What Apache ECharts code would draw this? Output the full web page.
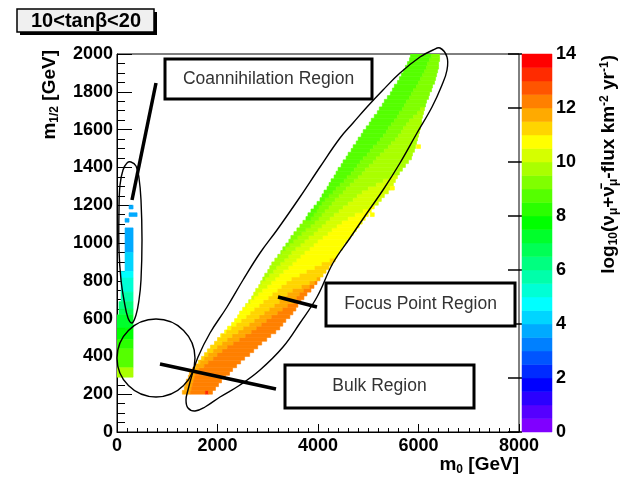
<!DOCTYPE html>
<html>
<head>
<meta charset="utf-8">
<script src="https://cdn.jsdelivr.net/npm/echarts@6/dist/echarts.min.js"></script>
<style>
html, body { margin: 0; padding: 0; background: #fff; }
#chart { width: 623px; height: 478px; }
</style>
</head>
<body>
<div id="chart"></div>
<script>
// colour scale: log10 flux levels and the palette between them
var fluxLevels = [0, 0.5, 1, 1.5, 2, 2.5, 3, 3.5, 4, 4.5, 5, 5.5, 6, 6.5, 7, 7.5,
    8, 8.5, 9, 9.5, 10, 10.5, 11, 11.5, 12, 12.5, 13, 13.5, 14];
var fluxColors = ['#8000ff', '#5500ff', '#2b00ff', '#0000ff', '#002bff', '#0055ff', '#0080ff',
    '#00aaff', '#00d5ff', '#00ffff', '#00ffd5', '#00ffaa', '#00ff80', '#00ff55', '#00ff2b',
    '#00ff00', '#2bff00', '#55ff00', '#80ff00', '#aaff00', '#d5ff00', '#ffff00', '#ffd500',
    '#ffaa00', '#ff8000', '#ff5500', '#ff2b00', '#ff0000'];

// coannihilation strip: [m0 from, m0 to, m12 from, m12 to, log10 flux]
var coannCells = [
    [240, 320, 1180, 1200, 3.75],
    [240, 400, 1140, 1160, 3.75],
    [160, 240, 1110, 1130, 3.75],
    [160, 320, 950, 1080, 3.75],
    [160, 320, 850, 950, 4.25],
    [80, 320, 815, 850, 4.75],
    [80, 320, 740, 815, 5.25],
    [80, 320, 690, 740, 5.75],
    [40, 320, 650, 690, 6.25],
    [40, 320, 620, 650, 6.75],
    [0, 320, 550, 620, 7.25],
    [0, 320, 490, 550, 7.75],
    [0, 320, 440, 490, 8.25],
    [0, 320, 340, 440, 8.75],
    [0, 320, 290, 340, 9.75]
];

// bulk / focus point band, one row every 20 GeV in m1/2: [m0 from, m0 to, log10 flux]
var bandRowY = [200, 220, 240, 260, 280, 300, 320, 340, 360, 380, 400, 420, 440, 460, 480,
    500, 520, 540, 560, 580, 600, 620, 640, 660, 680, 700, 720, 740, 760, 780,
    800, 820, 840, 860, 880, 900, 920, 940, 960, 980, 1000, 1020, 1040, 1060, 1080,
    1100, 1120, 1140, 1160, 1180, 1200, 1220, 1240, 1260, 1280, 1300, 1320, 1340, 1360, 1380,
    1400, 1420, 1440, 1460, 1480, 1500, 1520, 1540, 1560, 1580, 1600, 1620, 1640, 1660, 1680,
    1700, 1720, 1740, 1760, 1780, 1800, 1820, 1840, 1860, 1880, 1900, 1920, 1940, 1960, 1980];
var bandRows = [
    [[1300, 1460, 11.75], [1460, 1760, 12.25], [1760, 1820, 13.25], [1820, 1900, 12.25]],
    [[1340, 1480, 11.75], [1480, 1960, 12.25]],
    [[1360, 1500, 11.75], [1500, 2020, 12.25]],
    [[1380, 1520, 11.75], [1520, 2080, 12.25]],
    [[1420, 1540, 11.75], [1540, 2160, 12.25]],
    [[1440, 1560, 11.75], [1560, 2240, 12.25]],
    [[1500, 1640, 11.75], [1640, 2300, 12.25]],
    [[1560, 1580, 11.25], [1580, 1740, 11.75], [1740, 2380, 12.25]],
    [[1620, 1660, 11.25], [1660, 1820, 11.75], [1820, 2460, 12.25]],
    [[1680, 1740, 11.25], [1740, 1920, 11.75], [1920, 2540, 12.25]],
    [[1740, 1820, 11.25], [1820, 2000, 11.75], [2000, 2640, 12.25]],
    [[1800, 1920, 11.25], [1920, 2100, 11.75], [2100, 2720, 12.25]],
    [[1860, 2000, 11.25], [2000, 2200, 11.75], [2200, 2800, 12.25]],
    [[1940, 2100, 11.25], [2100, 2320, 11.75], [2320, 2880, 12.25]],
    [[2000, 2200, 11.25], [2200, 2440, 11.75], [2440, 2980, 12.25]],
    [[2060, 2080, 10.75], [2080, 2300, 11.25], [2300, 2560, 11.75], [2560, 3060, 12.25]],
    [[2140, 2180, 10.75], [2180, 2420, 11.25], [2420, 2680, 11.75], [2680, 3160, 12.25]],
    [[2200, 2280, 10.75], [2280, 2520, 11.25], [2520, 2780, 11.75], [2780, 3240, 12.25]],
    [[2280, 2380, 10.75], [2380, 2640, 11.25], [2640, 2880, 11.75], [2880, 3300, 12.25]],
    [[2340, 2480, 10.75], [2480, 2740, 11.25], [2740, 2980, 11.75], [2980, 3360, 12.25]],
    [[2400, 2580, 10.75], [2580, 2840, 11.25], [2840, 3080, 11.75], [3080, 3440, 12.25]],
    [[2440, 2660, 10.75], [2660, 2940, 11.25], [2940, 3200, 11.75], [3200, 3500, 12.25]],
    [[2500, 2740, 10.75], [2740, 3040, 11.25], [3040, 3300, 11.75], [3300, 3560, 12.25]],
    [[2560, 2580, 10.25], [2580, 2840, 10.75], [2840, 3140, 11.25], [3140, 3400, 11.75], [3400, 3600, 12.25]],
    [[2620, 2660, 10.25], [2660, 2920, 10.75], [2920, 3240, 11.25], [3240, 3520, 11.75], [3520, 3660, 12.25]],
    [[2680, 2740, 10.25], [2740, 3020, 10.75], [3020, 3320, 11.25], [3320, 3580, 11.75], [3580, 3720, 12.25]],
    [[2720, 2820, 10.25], [2820, 3100, 10.75], [3100, 3400, 11.25], [3400, 3640, 11.75], [3640, 3780, 12.25]],
    [[2760, 2900, 10.25], [2900, 3200, 10.75], [3200, 3500, 11.25], [3500, 3720, 11.75], [3720, 3860, 12.25]],
    [[2820, 3000, 10.25], [3000, 3280, 10.75], [3280, 3680, 11.25], [3680, 3840, 11.75], [3840, 3920, 12.25]],
    [[2860, 2880, 9.75], [2880, 3080, 10.25], [3080, 3380, 10.75], [3380, 3840, 11.25], [3840, 3940, 11.75], [3940, 3980, 12.25]],
    [[2900, 2960, 9.75], [2960, 3160, 10.25], [3160, 3480, 10.75], [3480, 3980, 11.25], [3980, 4040, 11.75]],
    [[2940, 3040, 9.75], [3040, 3240, 10.25], [3240, 3640, 10.75], [3640, 4100, 11.25]],
    [[3000, 3120, 9.75], [3120, 3320, 10.25], [3320, 3780, 10.75], [3780, 4160, 11.25]],
    [[3040, 3180, 9.75], [3180, 3420, 10.25], [3420, 3940, 10.75], [3940, 4220, 11.25]],
    [[3080, 3260, 9.75], [3260, 3500, 10.25], [3500, 4080, 10.75], [4080, 4280, 11.25]],
    [[3140, 3340, 9.75], [3340, 3580, 10.25], [3580, 4240, 10.75], [4240, 4340, 11.25]],
    [[3200, 3220, 9.25], [3220, 3420, 9.75], [3420, 3660, 10.25], [3660, 4380, 10.75]],
    [[3260, 3280, 9.25], [3280, 3480, 9.75], [3480, 3740, 10.25], [3740, 4420, 10.75]],
    [[3300, 3360, 9.25], [3360, 3560, 9.75], [3560, 3840, 10.25], [3840, 4480, 10.75]],
    [[3360, 3440, 9.25], [3440, 3660, 9.75], [3660, 3920, 10.25], [3920, 4520, 10.75]],
    [[3420, 3520, 9.25], [3520, 3740, 9.75], [3740, 4000, 10.25], [4000, 4580, 10.75]],
    [[3460, 3600, 9.25], [3600, 3820, 9.75], [3820, 4100, 10.25], [4100, 4640, 10.75]],
    [[3520, 3680, 9.25], [3680, 3920, 9.75], [3920, 4200, 10.25], [4200, 4700, 10.75]],
    [[3580, 3760, 9.25], [3760, 4000, 9.75], [4000, 4280, 10.25], [4280, 4760, 10.75]],
    [[3640, 3860, 9.25], [3860, 4080, 9.75], [4080, 4380, 10.25], [4380, 4820, 10.75]],
    [[3700, 3940, 9.25], [3940, 4160, 9.75], [4160, 4480, 10.25], [4480, 4880, 10.75]],
    [[3760, 3860, 8.75], [3860, 4020, 9.25], [4020, 4240, 9.75], [4240, 4600, 10.25], [4600, 4940, 10.75]],
    [[3800, 3920, 8.75], [3920, 4080, 9.25], [4080, 4320, 9.75], [4320, 4740, 10.25], [4740, 5000, 10.75]],
    [[3860, 3980, 8.75], [3980, 4140, 9.25], [4140, 4420, 9.75], [4420, 4900, 10.25], [4900, 5060, 10.75]],
    [[3920, 4020, 8.75], [4020, 4220, 9.25], [4220, 4500, 9.75], [4500, 5040, 10.25], [5040, 5120, 10.75]],
    [[3980, 4080, 8.75], [4080, 4280, 9.25], [4280, 4600, 9.75], [4600, 5200, 10.25]],
    [[4040, 4140, 8.75], [4140, 4340, 9.25], [4340, 4700, 9.75], [4700, 5260, 10.25]],
    [[4080, 4220, 8.75], [4220, 4420, 9.25], [4420, 4780, 9.75], [4780, 5320, 10.25]],
    [[4120, 4300, 8.75], [4300, 4500, 9.25], [4500, 4880, 9.75], [4880, 5400, 10.25]],
    [[4180, 4360, 8.75], [4360, 4560, 9.25], [4560, 5000, 9.75], [5000, 5440, 10.25]],
    [[4220, 4440, 8.75], [4440, 4640, 9.25], [4640, 5160, 9.75], [5160, 5500, 10.25]],
    [[4260, 4520, 8.75], [4520, 4720, 9.25], [4720, 5300, 9.75], [5300, 5540, 10.25]],
    [[4320, 4580, 8.75], [4580, 4800, 9.25], [4800, 5460, 9.75], [5460, 5580, 10.25]],
    [[4360, 4660, 8.75], [4660, 4880, 9.25], [4880, 5620, 9.75]],
    [[4400, 4720, 8.75], [4720, 4940, 9.25], [4940, 5680, 9.75]],
    [[4460, 4780, 8.75], [4780, 5020, 9.25], [5020, 5740, 9.75]],
    [[4500, 4840, 8.75], [4840, 5100, 9.25], [5100, 5800, 9.75]],
    [[4560, 4900, 8.75], [4900, 5160, 9.25], [5160, 5860, 9.75]],
    [[4600, 4980, 8.75], [4980, 5240, 9.25], [5240, 5880, 9.75]],
    [[4660, 5040, 8.75], [5040, 5320, 9.25], [5320, 5920, 9.75]],
    [[4700, 5100, 8.75], [5100, 5400, 9.25], [5400, 5940, 9.75]],
    [[4760, 5180, 8.75], [5180, 5460, 9.25], [5460, 5960, 9.75]],
    [[4800, 5240, 8.75], [5240, 5540, 9.25], [5540, 5980, 9.75]],
    [[4860, 5300, 8.75], [5300, 5600, 9.25], [5600, 6000, 9.75]],
    [[4900, 5360, 8.75], [5360, 5660, 9.25], [5660, 6020, 9.75]],
    [[4960, 5400, 8.75], [5400, 5700, 9.25], [5700, 6040, 9.75]],
    [[5020, 5460, 8.75], [5460, 5760, 9.25], [5760, 6060, 9.75]],
    [[5060, 5520, 8.75], [5520, 5820, 9.25], [5820, 6060, 9.75]],
    [[5120, 5580, 8.75], [5580, 5900, 9.25], [5900, 6080, 9.75]],
    [[5180, 5620, 8.75], [5620, 5980, 9.25], [5980, 6100, 9.75]],
    [[5220, 5680, 8.75], [5680, 6040, 9.25], [6040, 6120, 9.75]],
    [[5280, 5720, 8.75], [5720, 6140, 9.25]],
    [[5320, 5760, 8.75], [5760, 6160, 9.25]],
    [[5380, 5820, 8.75], [5820, 6200, 9.25]],
    [[5440, 5860, 8.75], [5860, 6220, 9.25]],
    [[5480, 5900, 8.75], [5900, 6260, 9.25]],
    [[5520, 5960, 8.75], [5960, 6280, 9.25]],
    [[5580, 6000, 8.75], [6000, 6320, 9.25]],
    [[5620, 6040, 8.75], [6040, 6340, 9.25]],
    [[5660, 6080, 8.75], [6080, 6360, 9.25]],
    [[5700, 6120, 8.75], [6120, 6380, 9.25]],
    [[5740, 6160, 8.75], [6160, 6400, 9.25]],
    [[5780, 6180, 8.75], [6180, 6400, 9.25]],
    [[5820, 6220, 8.75], [6220, 6420, 9.25]],
    [[5840, 6260, 8.75], [6260, 6420, 9.25]]
];
var bandRowHeight = 20;

// single points sticking out of the band
var strayCells = [
    [5040, 5120, 1140, 1160, 10.75],
    [5440, 5520, 1280, 1300, 10.75],
    [5960, 6040, 1500, 1520, 10.75]
];

var cells = coannCells.slice();
bandRows.forEach(function (segs, i) {
    segs.forEach(function (s) {
        cells.push([s[0], s[1], bandRowY[i], bandRowY[i] + bandRowHeight, s[2]]);
    });
});
strayCells.forEach(function (c) {
    cells.push(c);
});

var pieces = [];
var barData = [];
for (var i = 0; i < fluxColors.length; i++) {
    pieces.push({ gte: fluxLevels[i], lt: fluxLevels[i + 1], color: fluxColors[i] });
    barData.push([fluxLevels[i], fluxLevels[i + 1]]);
}

var labelFont = {
    color: '#000',
    fontSize: 18,
    fontWeight: 'bold',
    fontFamily: 'Liberation Sans',
    formatter: function (v) {
        return String(v);
    }
};

function boxText(x, y, w, h, text) {
    return [
        {
            type: 'rect', z: 20,
            shape: { x: x, y: y, width: w, height: h },
            style: { fill: '#fff', stroke: '#000', lineWidth: 3 }
        },
        {
            type: 'text', z: 21,
            x: x + w / 2, y: y + h / 2,
            style: {
                text: text, fill: '#333', font: '17.5px "Liberation Sans"',
                align: 'center', verticalAlign: 'middle',
                textAlign: 'center', textVerticalAlign: 'middle'
            }
        }
    ];
}

function pointer(x1, y1, x2, y2) {
    return {
        type: 'line', z: 22,
        shape: { x1: x1, y1: y1, x2: x2, y2: y2 },
        style: { stroke: '#000', lineWidth: 3.5 }
    };
}

var titleRich = {
    b: { fontSize: 19, fontWeight: 'bold', fontFamily: 'Liberation Sans', fill: '#000', lineHeight: 24 },
    sub: { fontSize: 12, fontWeight: 'bold', fontFamily: 'Liberation Sans', fill: '#000', padding: [9, 0, 0, 0] },
    sup: { fontSize: 12, fontWeight: 'bold', fontFamily: 'Liberation Sans', fill: '#000', padding: [0, 0, 9, 0] }
};

var graphics = [
    // title pave
    { type: 'rect', z: 20, shape: { x: 20, y: 12, width: 137, height: 23 }, style: { fill: '#000' } },
    { type: 'rect', z: 21, shape: { x: 17, y: 9, width: 137, height: 23 }, style: { fill: '#f0f0f0', stroke: '#000', lineWidth: 1.5 } },
    {
        type: 'text', z: 22, x: 86, y: 21,
        style: {
            text: '10<tanβ<20', fill: '#000', font: 'bold 20px "Liberation Sans"',
            align: 'center', verticalAlign: 'middle', textAlign: 'center', textVerticalAlign: 'middle'
        }
    },
    // region outlines
    {
        type: 'polygon', z: 15,
        shape: {
            smooth: 0.4,
            points: [[440, 48], [447, 57], [447, 70], [442, 85], [432, 107], [417, 133], [400, 163],
                [383, 190], [367, 213], [350, 238], [333, 263], [317, 297], [300, 323], [283, 347],
                [260, 370], [240, 385], [220, 397], [205, 407], [195, 411], [188, 408], [186, 400],
                [188, 390], [192, 375], [198, 357], [210, 333], [227, 307], [243, 280], [260, 253],
                [277, 230], [300, 197], [320, 167], [340, 138], [353, 123], [367, 107], [383, 90],
                [400, 73], [420, 57], [433, 50]]
        },
        style: { fill: 'none', stroke: '#000', lineWidth: 1.4 }
    },
    {
        type: 'polygon', z: 15,
        shape: {
            smooth: 0.4,
            points: [[131, 162], [136, 166], [139, 178], [141, 200], [142, 240], [141, 280], [139, 300],
                [136, 315], [132, 323], [128, 318], [124, 300], [121, 280], [119, 250], [119, 210],
                [120, 185], [123, 170], [127, 163]]
        },
        style: { fill: 'none', stroke: '#000', lineWidth: 1.4 }
    },
    {
        type: 'circle', z: 15,
        shape: { cx: 156, cy: 358, r: 39 },
        style: { fill: 'none', stroke: '#000', lineWidth: 1.4 }
    },
    pointer(156, 83, 132, 200),
    pointer(278, 297, 317, 307),
    pointer(160, 364, 276, 389),
    // axis titles
    {
        type: 'text', z: 22, x: 519, y: 465,
        style: {
            text: '{b|m}{sub|0}{b| [GeV]}', rich: titleRich,
            align: 'right', verticalAlign: 'middle', textAlign: 'right', textVerticalAlign: 'middle'
        }
    },
    {
        type: 'text', z: 22, x: 50, y: 50, rotation: Math.PI / 2,
        style: {
            text: '{b|m}{sub|1/2}{b| [GeV]}', rich: titleRich,
            align: 'right', verticalAlign: 'middle', textAlign: 'right', textVerticalAlign: 'middle'
        }
    },
    {
        type: 'text', z: 22, x: 609, y: 55, rotation: Math.PI / 2,
        style: {
            text: '{b|log}{sub|10}{b|(ν}{sub|μ}{b|+ν\u0304}{sub|μ}{b|-flux km}{sup|-2}{b| yr}{sup|-1}{b|)}',
            rich: titleRich,
            align: 'right', verticalAlign: 'middle', textAlign: 'right', textVerticalAlign: 'middle'
        }
    }
];
graphics = graphics.concat(boxText(165, 59, 207, 40, 'Coannihilation Region'));
graphics = graphics.concat(boxText(326, 283, 189, 43, 'Focus Point Region'));
graphics = graphics.concat(boxText(285, 365, 189, 43, 'Bulk Region'));

var chart = echarts.init(document.getElementById('chart'), null, { renderer: 'canvas' });

var option = {
    animation: false,
    backgroundColor: '#fff',
    grid: [
        { left: 117, right: 104, top: 54, bottom: 46, show: true, borderColor: '#000', borderWidth: 1, outerBoundsMode: 'none' },
        { left: 522, right: 71, top: 54, bottom: 46, outerBoundsMode: 'none' }
    ],
    xAxis: [
        {
            type: 'value', gridIndex: 0, min: 0, max: 8000, interval: 2000,
            axisLine: { lineStyle: { color: '#000', width: 1 } },
            axisTick: { inside: true, length: 8, lineStyle: { color: '#000' } },
            minorTick: { show: true, splitNumber: 10, length: 4, lineStyle: { color: '#000' } },
            splitLine: { show: false },
            axisLabel: Object.assign({ margin: 5 }, labelFont)
        },
        {
            type: 'value', gridIndex: 1, min: 0, max: 1, show: false
        }
    ],
    yAxis: [
        {
            type: 'value', gridIndex: 0, min: 0, max: 2000, interval: 200,
            axisLine: { lineStyle: { color: '#000', width: 1 } },
            axisTick: { inside: true, length: 15, lineStyle: { color: '#000' } },
            minorTick: { show: true, splitNumber: 4, length: 8, lineStyle: { color: '#000' } },
            splitLine: { show: false },
            axisLabel: Object.assign({ margin: 4 }, labelFont)
        },
        {
            type: 'value', gridIndex: 1, min: 0, max: 14, interval: 2, position: 'right',
            axisLine: { show: false },
            axisTick: { inside: true, length: 14, lineStyle: { color: '#000', width: 1.5 } },
            splitLine: { show: false },
            axisLabel: Object.assign({ margin: 4 }, labelFont)
        }
    ],
    visualMap: {
        type: 'piecewise', show: false, dimension: 4, seriesIndex: 0,
        pieces: pieces
    },
    graphic: graphics,
    series: [
        {
            type: 'custom',
            xAxisIndex: 0, yAxisIndex: 0,
            clip: true, silent: true,
            encode: { x: [0, 1], y: [2, 3] },
            data: cells,
            renderItem: function (params, api) {
                var p0 = api.coord([api.value(0), api.value(3)]);
                var p1 = api.coord([api.value(1), api.value(2)]);
                var c = api.visual('color');
                return {
                    type: 'rect',
                    shape: { x: p0[0], y: p0[1], width: p1[0] - p0[0], height: p1[1] - p0[1] },
                    style: { fill: c, stroke: c, lineWidth: 0.6 }
                };
            }
        },
        {
            type: 'custom',
            xAxisIndex: 1, yAxisIndex: 1,
            silent: true,
            encode: { y: [0, 1] },
            data: barData,
            renderItem: function (params, api) {
                var p0 = api.coord([0, api.value(1)]);
                var p1 = api.coord([1, api.value(0)]);
                var c = fluxColors[params.dataIndex];
                return {
                    type: 'rect',
                    shape: { x: p0[0], y: p0[1], width: p1[0] - p0[0], height: p1[1] - p0[1] },
                    style: { fill: c, stroke: c, lineWidth: 0.5 }
                };
            }
        }
    ]
};

chart.setOption(option);
</script>
</body>
</html>
